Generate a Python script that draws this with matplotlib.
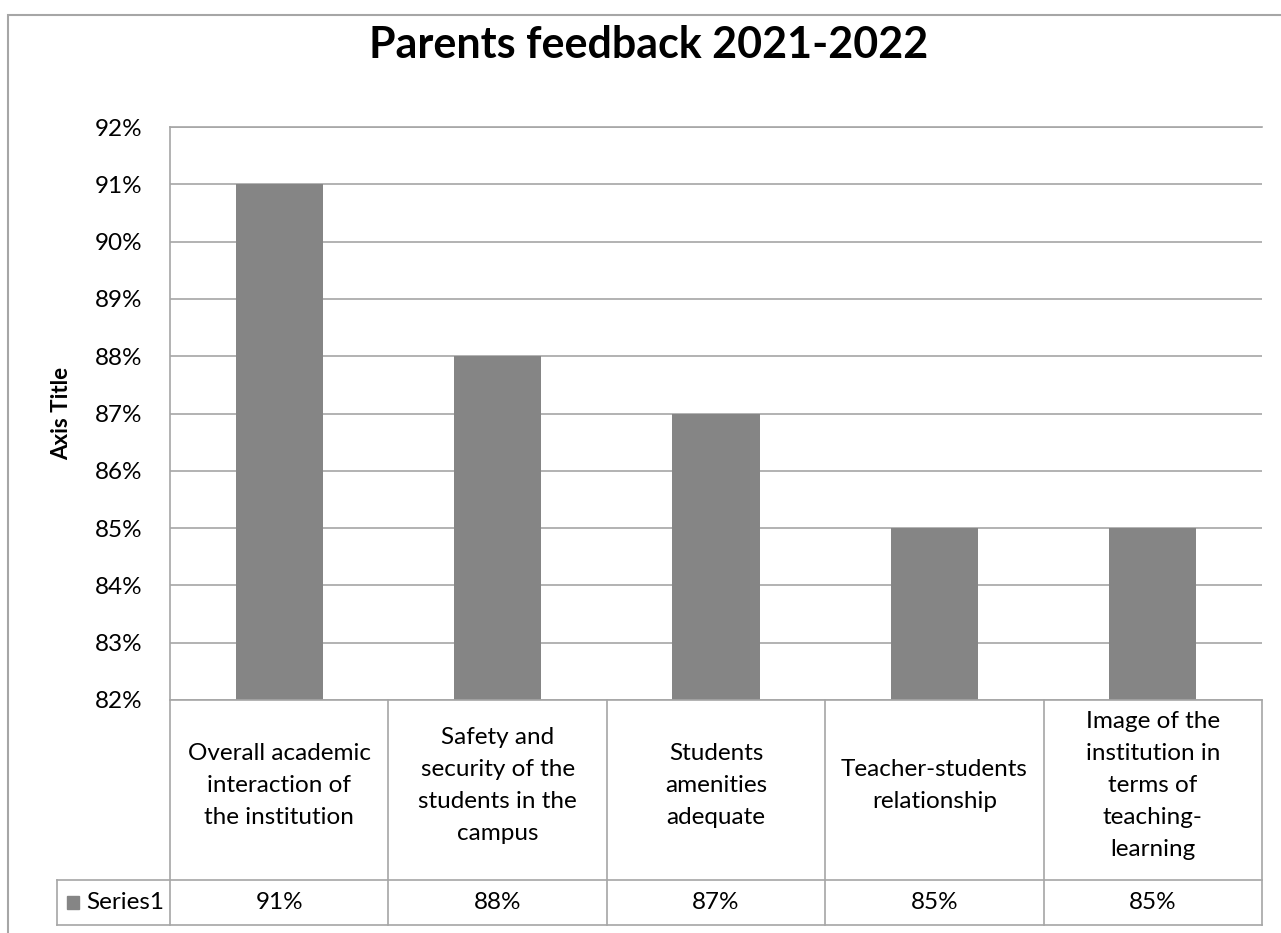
import matplotlib.pyplot as plt
import matplotlib.transforms as mtransforms
from matplotlib.patches import Rectangle

# 数据
categories = [
    "Overall academic\ninteraction of\nthe institution",
    "Safety and\nsecurity of the\nstudents in the\ncampus",
    "Students\namenities\nadequate",
    "Teacher-students\nrelationship",
    "Image of the\ninstitution in\nterms of\nteaching-\nlearning",
]
values = [91, 88, 87, 85, 85]
value_labels = ["91%", "88%", "87%", "85%", "85%"]
series_name = "Series1"
y_ticks = list(range(82, 93))

plt.rcParams["font.family"] = ["Lato", "DejaVu Sans"]

BAR = "#858585"
LINE = "#a6a6a6"
FS = 17.5

fig = plt.figure(figsize=(12.81, 9.33), dpi=100)
ax = fig.add_axes([170 / 1281, 233 / 933, 1092 / 1281, 573 / 933])

x = list(range(len(categories)))
ax.bar(x, [v - 82 for v in values], bottom=82, width=0.4, color=BAR, zorder=2)
ax.set_xlim(-0.5, len(categories) - 0.5)
ax.set_ylim(82, 92)
ax.set_yticks(y_ticks)
ax.set_yticklabels([f"{t}%" for t in y_ticks], fontsize=FS)
ax.tick_params(axis="y", length=0, pad=20)
ax.set_xticks([])
ax.grid(axis="y", color=LINE, linewidth=1.2, zorder=0)
for s in ["right", "bottom"]:
    ax.spines[s].set_visible(False)
for s in ["left", "top"]:
    ax.spines[s].set_color(LINE)
    ax.spines[s].set_linewidth(1.2)
ax.set_ylabel("Axis Title", fontsize=16, fontweight="bold", labelpad=16)

# 标题
fig.text(649 / 1281, 1 - 45 / 933, "Parents feedback 2021-2022",
         ha="center", va="center", fontsize=31, fontweight="bold")

# 数据表
trans = mtransforms.blended_transform_factory(ax.transData, ax.transAxes)
h_cat = (880 - 700) / 573
h_val = (925 - 700) / 573
legend_left = -0.5 - (170 - 57) / (1092 / 5)
n = len(categories)
kw = dict(transform=trans, clip_on=False, color=LINE, linewidth=1.2)
for i in range(n + 1):
    ax.plot([i - 0.5, i - 0.5], [0, -h_val], **kw)
ax.plot([-0.5, n - 0.5], [0, 0], **kw)
ax.plot([legend_left, n - 0.5], [-h_cat, -h_cat], **kw)
ax.plot([legend_left, n - 0.5], [-h_val, -h_val], **kw)
ax.plot([legend_left, legend_left], [-h_cat, -h_val], **kw)

for i, (c, v) in enumerate(zip(categories, value_labels)):
    ax.text(i, -h_cat / 2 + 0.008, c, transform=trans, ha="center", va="center",
            fontsize=FS, linespacing=1.65, clip_on=False)
    ax.text(i, -(h_cat + h_val) / 2, v, transform=trans, ha="center",
            va="center", fontsize=FS, clip_on=False)

ax.add_patch(Rectangle((legend_left + 0.045, -(h_cat + h_val) / 2 - 0.011), 0.055, 0.022,
                       transform=trans, color=BAR, clip_on=False))
ax.text(legend_left + 0.135, -(h_cat + h_val) / 2, series_name, transform=trans,
        ha="left", va="center", fontsize=FS, clip_on=False)

# 外框
fig.patches.append(Rectangle((8 / 1281, -0.01), 1.02, (933 - 15) / 933 + 0.01,
                             transform=fig.transFigure, fill=False,
                             edgecolor=LINE, linewidth=1.5))

fig.savefig("out.png", dpi=100)
